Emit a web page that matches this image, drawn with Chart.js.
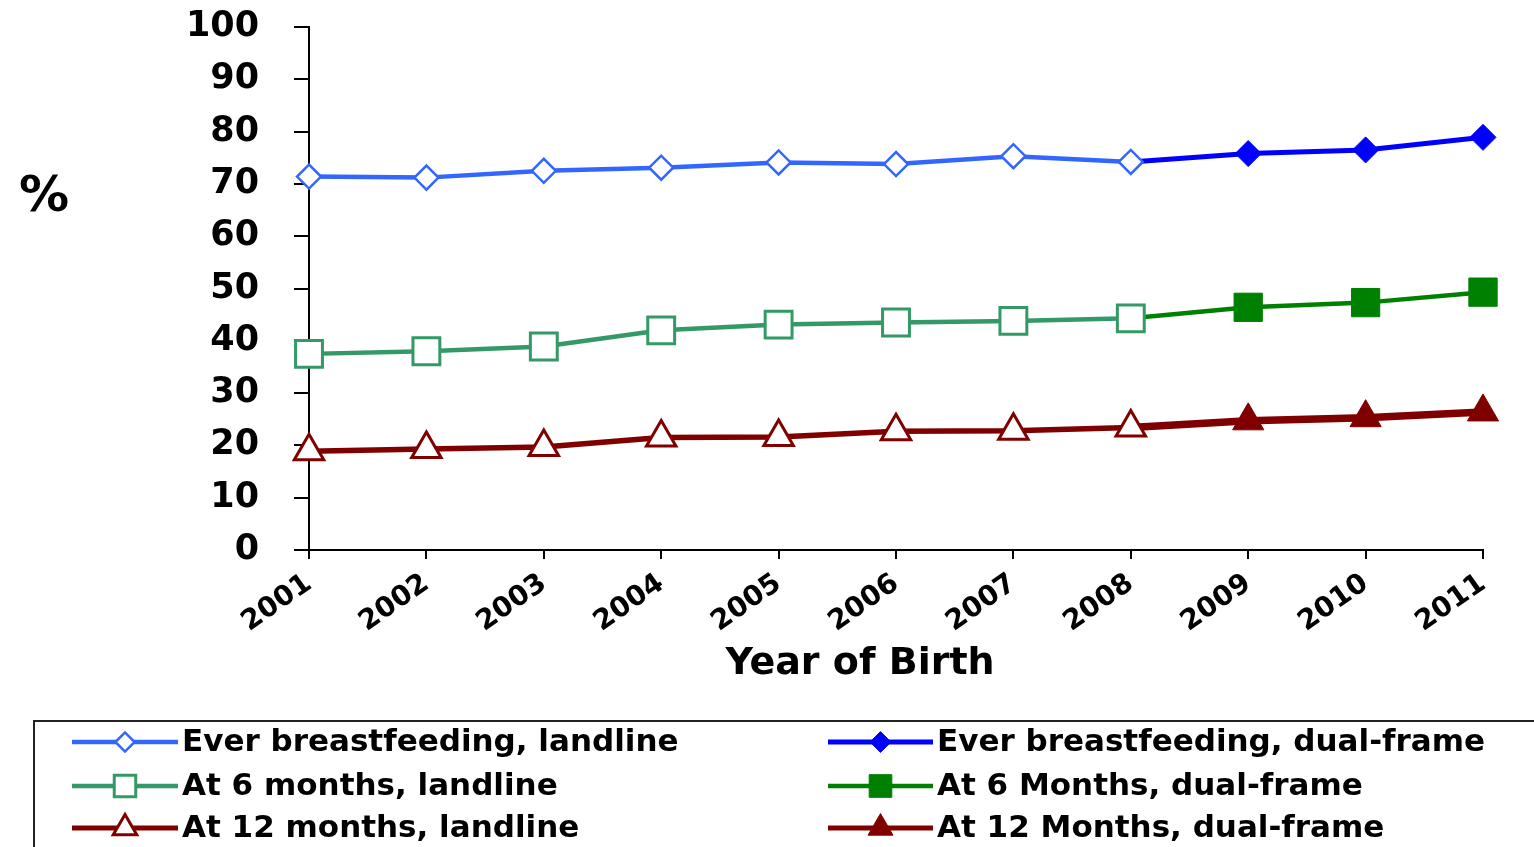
<!DOCTYPE html>
<html>
<head>
<meta charset="utf-8">
<title>Breastfeeding rates by year of birth</title>
<script src="https://cdn.jsdelivr.net/npm/chart.js@4/dist/chart.umd.min.js"></script>
<style>
  html, body { margin: 0; padding: 0; background: #ffffff; }
  #wrap { width: 1534px; height: 847px; position: relative; }
</style>
</head>
<body>
<div id="wrap"><canvas id="chart" width="1534" height="847"></canvas></div>
<script>
// Year of birth categories
const years = ['2001', '2002', '2003', '2004', '2005', '2006', '2007', '2008', '2009', '2010', '2011'];

// Percentages; landline surveys 2001-2008, dual-frame surveys from 2008 on
const everLandline   = [71.4, 71.2, 72.5, 73.1, 74.1, 73.8, 75.3, 74.2, null, null, null];
const everDualFrame  = [null, null, null, null, null, null, null, 74.2, 75.8, 76.5, 78.9];
const sixLandline    = [37.5, 38.0, 38.9, 42.0, 43.1, 43.5, 43.8, 44.3, null, null, null];
const sixDualFrame   = [null, null, null, null, null, null, null, 44.3, 46.4, 47.3, 49.3];
const twelveLandline = [18.9, 19.3, 19.7, 21.5, 21.6, 22.7, 22.8, 23.4, null, null, null];
const twelveDualFrame= [null, null, null, null, null, null, null, 23.4, 24.7, 25.3, 26.4];

// Y axis ticks
const yTicks = [0, 10, 20, 30, 40, 50, 60, 70, 80, 90, 100];

const seriesLabels = [
  'Ever breastfeeding, landline',
  'Ever breastfeeding, dual-frame',
  'At 6 months, landline',
  'At 6 Months, dual-frame',
  'At 12 months, landline',
  'At 12 Months, dual-frame'
];

const FONT = '"DejaVu Sans", "Liberation Sans", sans-serif';

// dual-frame series share the 2008 point with the landline series; no marker there
const dualRadius = (r) => (ctx) => (ctx.dataIndex < 8 ? 0 : r);

const datasets = [
  { label: seriesLabels[0], data: everLandline, borderColor: '#3366ff', borderWidth: 4.5,
    pointStyle: 'rectRot', pointRadius: 12, pointBackgroundColor: '#ffffff',
    pointBorderColor: '#3366ff', pointBorderWidth: 2.5 },
  { label: seriesLabels[1], data: everDualFrame, borderColor: '#0000ff', borderWidth: 5,
    pointStyle: 'rectRot', pointRadius: dualRadius(13), pointBackgroundColor: '#0000ff',
    pointBorderColor: '#0000ff', pointBorderWidth: 1, legendRadius: 13 },
  { label: seriesLabels[2], data: sixLandline, borderColor: '#339966', borderWidth: 4.5,
    pointStyle: 'rect', pointRadius: 19, pointBackgroundColor: '#ffffff',
    pointBorderColor: '#339966', pointBorderWidth: 3 },
  { label: seriesLabels[3], data: sixDualFrame, borderColor: '#008000', borderWidth: 4.5,
    pointStyle: 'rect', pointRadius: dualRadius(20), pointBackgroundColor: '#008000',
    pointBorderColor: '#008000', pointBorderWidth: 1, legendRadius: 20 },
  { label: seriesLabels[4], data: twelveLandline, borderColor: '#800000', borderWidth: 5.5,
    pointStyle: 'triangle', pointRadius: 17, pointBackgroundColor: '#ffffff',
    pointBorderColor: '#800000', pointBorderWidth: 3 },
  { label: seriesLabels[5], data: twelveDualFrame, borderColor: '#800000', borderWidth: 7.5,
    pointStyle: 'triangle', pointRadius: dualRadius(18), pointBackgroundColor: '#800000',
    pointBorderColor: '#800000', pointBorderWidth: 1, legendRadius: 18 }
];
datasets.forEach(d => { d.fill = false; d.tension = 0; d.spanGaps = false; });

// white page behind the chart
const background = {
  id: 'background',
  beforeDraw(chart) {
    const c = chart.ctx;
    c.save();
    c.fillStyle = '#ffffff';
    c.fillRect(0, 0, chart.width, chart.height);
    c.restore();
  }
};

// axis captions: "%" beside the value axis, "Year of Birth" under the years
const captions = {
  id: 'captions',
  afterDraw(chart) {
    const c = chart.ctx;
    c.save();
    c.fillStyle = '#000000';
    c.textAlign = 'center';
    c.textBaseline = 'middle';
    c.font = 'bold 50px ' + FONT;
    c.fillText('%', 44, 198);
    c.font = 'bold 38px ' + FONT;
    c.fillText('Year of Birth', 860, 664);
    c.restore();
  }
};

// boxed legend, two columns of three rows
const boxLegend = {
  id: 'boxLegend',
  afterDraw(chart) {
    const c = chart.ctx;
    c.save();
    c.strokeStyle = '#222222';
    c.lineWidth = 2;
    c.strokeRect(34, 721, chart.width, 200);
    const rows = [742, 786, 828];
    const cols = [{ x0: 72, x1: 178, tx: 182 }, { x0: 828, x1: 933, tx: 937 }];
    chart.data.datasets.forEach((ds, i) => {
      const col = cols[i % 2];
      const y = rows[Math.floor(i / 2)];
      c.strokeStyle = ds.borderColor;
      c.lineWidth = Math.min(ds.borderWidth, 5);
      c.beginPath();
      c.moveTo(col.x0, y);
      c.lineTo(col.x1, y);
      c.stroke();
      const cx = (col.x0 + col.x1) / 2;
      const r = (typeof ds.pointRadius === 'number' ? ds.pointRadius : ds.legendRadius) * 0.8;
      c.fillStyle = ds.pointBackgroundColor;
      c.strokeStyle = ds.pointBorderColor;
      c.lineWidth = ds.pointBorderWidth;
      c.beginPath();
      Chart.helpers.drawPoint(c, { pointStyle: ds.pointStyle, rotation: 0, radius: r, borderWidth: ds.pointBorderWidth }, cx, y);
      c.fillStyle = '#000000';
      c.font = 'bold 31px ' + FONT;
      c.textAlign = 'left';
      c.textBaseline = 'middle';
      c.fillText(ds.label, col.tx, y + 1);
    });
    c.restore();
  }
};

new Chart(document.getElementById('chart'), {
  type: 'line',
  data: { labels: years, datasets },
  plugins: [background, captions, boxLegend],
  options: {
    responsive: false,
    animation: false,
    devicePixelRatio: 1,
    layout: { autoPadding: false, padding: { top: 27, right: 51, bottom: 147, left: 0 } },
    plugins: { legend: { display: false }, tooltip: { enabled: false }, title: { display: false } },
    elements: { line: { borderCapStyle: 'round', borderJoinStyle: 'round' } },
    scales: {
      x: {
        type: 'category',
        offset: false,
        border: { display: true, color: '#000000', width: 2 },
        grid: { display: true, drawOnChartArea: false, drawTicks: true, tickLength: 9, color: '#000000', lineWidth: 2 },
        ticks: {
          autoSkip: false, minRotation: 35, maxRotation: 35, padding: 8,
          color: '#000000', font: { family: FONT, size: 28, weight: 'bold' }
        },
        afterFit(scale) { scale.height = 150; scale.paddingLeft = 0; scale.paddingRight = 0; }
      },
      y: {
        min: 0, max: 100,
        afterBuildTicks(scale) { scale.ticks = yTicks.map(v => ({ value: v })); },
        border: { display: true, color: '#000000', width: 2 },
        grid: { display: true, drawOnChartArea: false, drawTicks: true, tickLength: 15, color: '#000000', lineWidth: 2 },
        ticks: {
          padding: 35, color: '#000000',
          font: { family: FONT, size: 35, weight: 'bold' }
        },
        afterFit(scale) { scale.width = 309; scale.paddingTop = 0; scale.paddingBottom = 0; }
      }
    }
  }
});
</script>
</body>
</html>
